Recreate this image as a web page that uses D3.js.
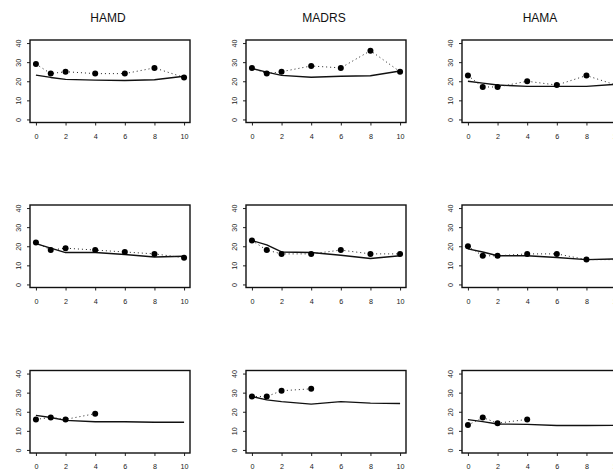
<!DOCTYPE html>
<html>
<head>
<meta charset="utf-8">
<script src="https://cdn.jsdelivr.net/npm/d3@7"></script>
<style>
  html, body { margin: 0; padding: 0; background: #fff; overflow: hidden; }
  svg { display: block; }
  text { font-family: "Liberation Sans", Arial, Helvetica, sans-serif; }
</style>
</head>
<body>
<svg id="chart" width="613" height="472"></svg>
<script>
// Rating scales (columns) and assessment weeks
const scales = ["HAMD", "MADRS", "HAMA"];
const weeks = [0, 1, 2, 4, 6, 8, 10];
const xTicks = [0, 2, 4, 6, 8, 10];
const yTicks = [0, 10, 20, 30, 40];

// Observed means per panel (row by row, left to right)
const obsHamd1  = [29, 24, 25, 24, 24, 27, 22];
const obsMadrs1 = [27, 24, 25, 28, 27, 36, 25];
const obsHama1  = [23, 17, 17, 20, 18, 23, 18];
const obsHamd2  = [22, 18, 19, 18, 17, 16, 14];
const obsMadrs2 = [23, 18, 16, 16, 18, 16, 16];
const obsHama2  = [20, 15, 15, 16, 16, 13, 13];
const obsHamd3  = [16, 17, 16, 19];
const obsMadrs3 = [28, 28, 31, 32];
const obsHama3  = [13, 17, 14, 16];

// Model-fitted trajectories per panel
const fitHamd1  = [23.2, 22.0, 21.0, 20.6, 20.4, 20.8, 22.6];
const fitMadrs1 = [26.7, 24.8, 23.1, 22.1, 22.6, 22.9, 25.4];
const fitHama1  = [20.0, 19.0, 18.0, 17.3, 17.3, 17.3, 18.4];
const fitHamd2  = [21.4, 19.0, 16.7, 16.7, 15.7, 14.4, 14.8];
const fitMadrs2 = [23.0, 20.7, 17.0, 16.7, 15.3, 13.6, 15.0];
const fitHama2  = [18.6, 17.0, 15.0, 15.0, 14.1, 13.0, 13.4];
const fitHamd3  = [18.1, 17.0, 15.5, 14.8, 14.8, 14.5, 14.5];
const fitMadrs3 = [28.0, 26.2, 25.3, 24.0, 25.3, 24.5, 24.3];
const fitHama3  = [15.9, 14.8, 13.6, 13.4, 12.8, 12.8, 12.9];

const observed = [
  [obsHamd1, obsMadrs1, obsHama1],
  [obsHamd2, obsMadrs2, obsHama2],
  [obsHamd3, obsMadrs3, obsHama3]
];
const fitted = [
  [fitHamd1, fitMadrs1, fitHama1],
  [fitHamd2, fitMadrs2, fitHama2],
  [fitHamd3, fitMadrs3, fitHama3]
];

const svg = d3.select("#chart");

// Panel grid geometry
const colLeft = [30, 246, 462];
const rowTop = [40, 205, 370.5];
const panelW = 160, panelH = 82.5;

rowTop.forEach((top, r) => {
  colLeft.forEach((left, c) => {
    const g = svg.append("g");
    // R-style axis ranges with 4% padding on each side
    const x = d3.scaleLinear().domain([-0.4, 10.4]).range([left, left + panelW]);
    const y = d3.scaleLinear().domain([-1.6, 41.6]).range([top + panelH, top]);

    // x axis
    const xa = g.append("g")
      .attr("transform", `translate(0,${top + panelH})`)
      .call(d3.axisBottom(x).tickValues(xTicks).tickSize(3).tickPadding(8).tickFormat(d3.format("d")));
    xa.select(".domain").remove();
    xa.selectAll("line").attr("stroke", "#222");
    xa.selectAll("text").attr("font-size", 7.2).attr("fill", "#222")
      .attr("font-family", "'Liberation Sans', Arial, sans-serif");

    // y axis with rotated labels
    const ya = g.append("g")
      .attr("transform", `translate(${left},0)`)
      .call(d3.axisLeft(y).tickValues(yTicks).tickSize(3).tickFormat(d3.format("d")));
    ya.select(".domain").remove();
    ya.selectAll("line").attr("stroke", "#222");
    ya.selectAll("text")
      .attr("font-size", 7.2).attr("fill", "#222")
      .attr("font-family", "'Liberation Sans', Arial, sans-serif")
      .attr("x", null).attr("dy", null)
      .attr("text-anchor", "middle")
      .attr("transform", "translate(-9,0) rotate(-90)");

    // fitted trajectory
    const fit = fitted[r][c];
    g.append("path")
      .datum(weeks.slice(0, fit.length).map((w, i) => [w, fit[i]]))
      .attr("fill", "none")
      .attr("stroke", "#111")
      .attr("stroke-width", 1.4)
      .attr("stroke-linejoin", "round")
      .attr("d", d3.line().x(d => x(d[0])).y(d => y(d[1])));

    // observed means, dotted connection
    const obs = observed[r][c];
    const pts = obs.map((v, i) => [weeks[i], v]);
    g.append("path")
      .datum(pts)
      .attr("fill", "none")
      .attr("stroke", "#222")
      .attr("stroke-width", 1)
      .attr("stroke-dasharray", "1,3")
      .attr("d", d3.line().x(d => x(d[0])).y(d => y(d[1])));
    g.selectAll("circle.pt")
      .data(pts)
      .join("circle")
      .attr("class", "pt")
      .attr("cx", d => x(d[0]))
      .attr("cy", d => y(d[1]))
      .attr("r", 3)
      .attr("fill", "#000");

    // panel frame
    g.append("rect")
      .attr("x", left).attr("y", top)
      .attr("width", panelW).attr("height", panelH)
      .attr("fill", "none")
      .attr("stroke", "#111")
      .attr("stroke-width", 1.4);

    // column titles on the top row
    if (r === 0) {
      svg.append("text")
        .attr("x", left + panelW / 2 - 2)
        .attr("y", 22)
        .attr("text-anchor", "middle")
        .attr("font-size", 12)
        .attr("fill", "#111")
        .text(scales[c]);
    }
  });
});
</script>
</body>
</html>
